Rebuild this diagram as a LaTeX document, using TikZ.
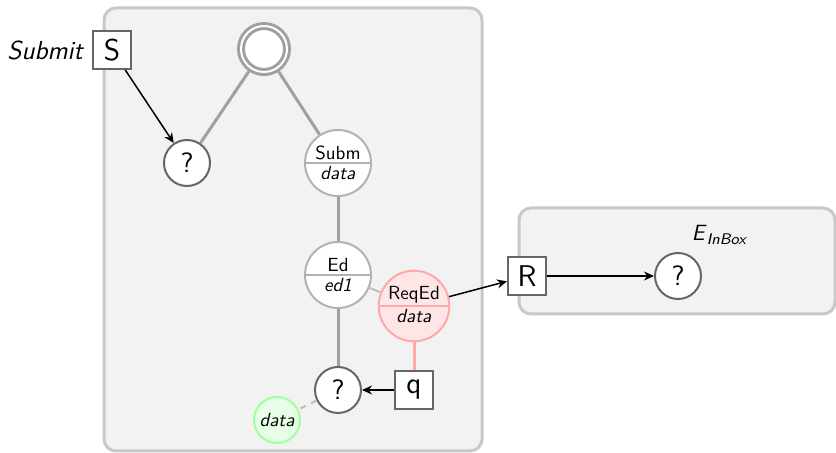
\documentclass[tikz,border=0pt]{standalone}
\usetikzlibrary{arrows.meta}
\usetikzlibrary{shapes.multipart}
\usetikzlibrary{positioning}
\renewcommand{\familydefault}{\sfdefault}

\definecolor{boxgray}{HTML}{F2F2F2}
\definecolor{rimgray}{HTML}{C8C8C8}
\definecolor{linegray}{HTML}{A0A0A0}
\definecolor{pinkfill}{HTML}{FFE6E6}
\definecolor{pinkline}{HTML}{FFA8A8}
\definecolor{greenfill}{HTML}{E6FFE6}
\definecolor{greenline}{HTML}{A0FFA0}

\tikzset{
  hole/.style={circle, draw=black!60, line width=1pt, fill=white, minimum size=23pt, inner sep=0pt, font=\fontsize{14}{16}\selectfont},
  port/.style={rectangle, draw=black!60, line width=1pt, fill=white, minimum size=19pt, inner sep=0pt, font=\fontsize{15}{17}\selectfont},
  cell/.style={circle split, draw=black!30, line width=1pt, fill=white, minimum size=33pt, inner sep=1pt, font=\fontsize{9.5}{10}\selectfont},
  link/.style={linegray, line width=1.5pt},
  msg/.style={black, line width=0.75pt, -{Stealth[length=5pt,width=4.5pt]}},
}

\begin{document}
\begin{tikzpicture}[x=0.5pt, y=-0.5pt]
\useasboundingbox (0,0) rectangle (836,453);
\draw[rimgray, fill=boxgray, line width=1.5pt, rounded corners=6pt] (104,8) rectangle (482,451);
\draw[rimgray, fill=boxgray, line width=1.5pt, rounded corners=6pt] (519,208) rectangle (835,314);

\node[circle, draw=linegray, line width=1.5pt, double=white, double distance=1pt, fill=white, minimum size=23pt] (top) at (264,49) {};
\node[hole] (q1) at (187,163) {?};
\node[cell] (subm) at (338,163) {Subm \nodepart{lower} \textit{data}};
\node[cell] (ed) at (338,275) {Ed \nodepart{lower} \textit{ed1}};
\node[cell, draw=pinkline, fill=pinkfill, minimum size=34pt] (reqed) at (414,306) {ReqEd \nodepart{lower} \textit{data}};
\node[hole] (q2) at (338,390) {?};
\node[port] (q) at (414,390) {q};
\node[circle, draw=greenline, fill=greenfill, line width=1pt, minimum size=23pt, inner sep=0pt, font=\fontsize{9.5}{10}\selectfont\itshape] (val) at (277,420) {data};

\node[port] (s) at (112,50) {S};
\node[left=1pt of s, font=\fontsize{13}{15}\selectfont\itshape] (submit) {Submit};

\node[port] (r) at (527,276) {R};
\node[hole] (q3) at (678,276) {?};
\node[font=\fontsize{11}{13}\selectfont] (inbox) at (720,235) {\textit{E}\textsubscript{\textit{InBox}}};

\draw[msg] (s) -- (q1);
\draw[link] (top) -- (q1);
\draw[link] (top) -- (subm);
\draw[link] (subm) -- (ed);
\draw[link] (ed) -- (q2);
\draw[black!25, line width=1pt] (ed) -- (reqed);
\draw[pinkline, line width=1.5pt] (reqed) -- (q);
\draw[msg] (q) -- (q2);
\draw[black!25, line width=1pt, dashed] (q2) -- (val);
\draw[msg] (reqed) -- (r);
\draw[msg] (r) -- (q3);

\end{tikzpicture}
\end{document}
